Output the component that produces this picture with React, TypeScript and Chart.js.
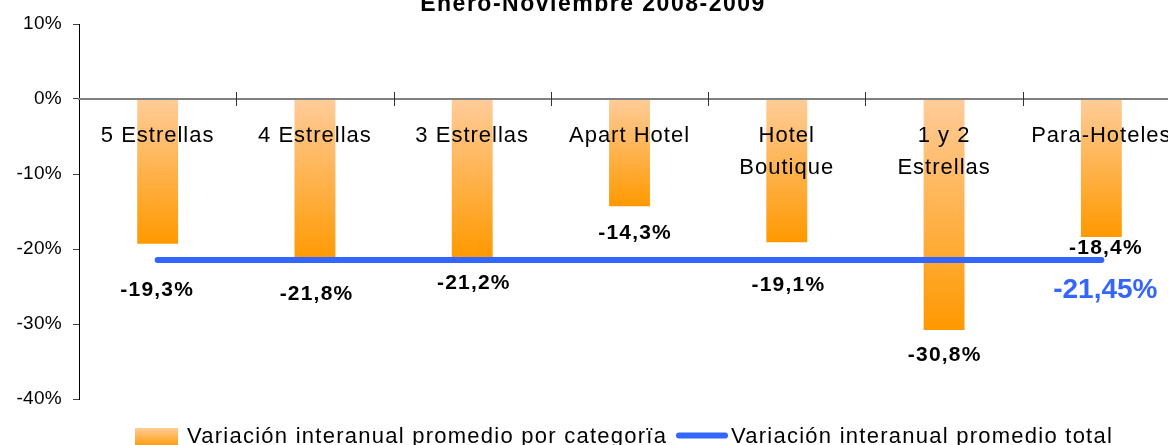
import React, { useEffect, useRef } from 'react';
import { Chart, registerables } from 'chart.js';

Chart.register(...registerables);

// ---- data ----
const categories: string[][] = [
  ['5 Estrellas'],
  ['4 Estrellas'],
  ['3 Estrellas'],
  ['Apart Hotel'],
  ['Hotel', 'Boutique'],
  ['1 y 2', 'Estrellas'],
  ['Para-Hoteles'],
];
const variacionCategoria = [-19.3, -21.8, -21.2, -14.3, -19.1, -30.8, -18.4];
const variacionTotal = [-21.45, -21.45, -21.45, -21.45, -21.45, -21.45, -21.45];
const yTicks = [10, 0, -10, -20, -30, -40];
const titleText = 'Enero-Noviembre 2008-2009';
const legendLabels = ['Variación interanual promedio por categorïa', 'Variación interanual promedio total'];

// ---- layout-only settings (label placement, px offsets from bar end) ----
const labelOffsets: number[][] = [[-1, 52], [1, 37], [1, 31], [5, 33], [1, 48.6], [0, 31.4], [4, 17]];
const totalLabelOffset = [4, 38];

const FONT = '"Liberation Sans", Arial, Helvetica, sans-serif';
const ORANGE_TOP = '#FFCC99';
const ORANGE_BOTTOM = '#FF9900';
const BLUE = '#3366FF';

const fmt = (v: number, d: number) => v.toFixed(d).replace('.', ',') + '%';

const decorPlugin = {
  id: 'decor',
  beforeDraw(chart: any) {
    chart.ctx.letterSpacing = '0.3px';
  },
  afterDatasetsDraw(chart: any) {
    // x-axis category labels (drawn after datasets) get a slight letter spacing
    chart.ctx.letterSpacing = '1px';
  },
  afterDraw(chart: any) {
    const ctx: CanvasRenderingContext2D = chart.ctx;
    const xs = chart.scales.x;
    const ys = chart.scales.y;
    ctx.save();
    const y0 = ys.getPixelForValue(0);

    // crossing tick marks between categories
    ctx.strokeStyle = '#333';
    ctx.lineWidth = 1;
    for (let i = 1; i <= categories.length; i++) {
      const x = i < categories.length
        ? (xs.getPixelForValue(i - 1) + xs.getPixelForValue(i)) / 2
        : xs.right;
      const px = Math.round(x) + 0.5;
      ctx.beginPath();
      ctx.moveTo(px, y0 - 7);
      ctx.lineTo(px, y0 + 7);
      ctx.stroke();
    }

    // value labels
    ctx.textAlign = 'center';
    ctx.textBaseline = 'alphabetic';
    ctx.fillStyle = '#000';
    ctx.font = `bold 21px ${FONT}`;
    (ctx as any).letterSpacing = '1.2px';
    variacionCategoria.forEach((v, i) => {
      const x = xs.getPixelForValue(i) + labelOffsets[i][0] + 0.6;
      const y = ys.getPixelForValue(v) + labelOffsets[i][1];
      ctx.fillText(fmt(v, 1), x, y);
    });

    // total label
    const last = variacionTotal.length - 1;
    ctx.fillStyle = BLUE;
    ctx.font = `bold 28px ${FONT}`;
    (ctx as any).letterSpacing = '0px';
    ctx.fillText(
      fmt(variacionTotal[last], 2),
      xs.getPixelForValue(last) + totalLabelOffset[0],
      ys.getPixelForValue(variacionTotal[last]) + totalLabelOffset[1]
    );

    // title (top part is cut off by the frame)
    ctx.fillStyle = '#000';
    ctx.font = `bold 23px ${FONT}`;
    (ctx as any).letterSpacing = '1.5px';
    ctx.fillText(titleText, 593, 11);

    // legend
    ctx.textAlign = 'left';
    ctx.font = `22px ${FONT}`;
    (ctx as any).letterSpacing = '1.25px';
    const g = ctx.createLinearGradient(0, 428, 0, 447);
    g.addColorStop(0, ORANGE_TOP);
    g.addColorStop(1, ORANGE_BOTTOM);
    ctx.fillStyle = g;
    ctx.fillRect(135, 428, 43, 19);
    ctx.fillStyle = '#000';
    ctx.fillText(legendLabels[0], 187, 443);

    ctx.strokeStyle = BLUE;
    ctx.lineWidth = 6;
    ctx.lineCap = 'round';
    ctx.beginPath();
    ctx.moveTo(679, 435.5);
    ctx.lineTo(725, 435.5);
    ctx.stroke();
    ctx.fillStyle = '#000';
    ctx.fillText(legendLabels[1], 731, 443);

    ctx.restore();
    ctx.letterSpacing = '0px';
  },
};

export default function App() {
  const ref = useRef<HTMLCanvasElement | null>(null);

  useEffect(() => {
    if (!ref.current) return;
    Chart.defaults.font.family = FONT;
    const chart = new Chart(ref.current, {
      type: 'bar',
      data: {
        labels: categories as any,
        datasets: [
          {
            type: 'line',
            label: legendLabels[1],
            data: variacionTotal,
            borderColor: BLUE,
            backgroundColor: BLUE,
            borderWidth: 6,
            borderCapStyle: 'round',
            pointRadius: 0,
            pointHoverRadius: 0,
            order: 0,
          } as any,
          {
            type: 'bar',
            label: legendLabels[0],
            data: variacionCategoria,
            barPercentage: 0.26,
            categoryPercentage: 1,
            borderWidth: 0,
            order: 1,
            backgroundColor: (c: any) => {
              const ch = c.chart;
              const ys = ch.scales && ch.scales.y;
              if (!ys || c.type !== 'data') return ORANGE_BOTTOM;
              const top = ys.getPixelForValue(0);
              const bot = ys.getPixelForValue(c.raw as number);
              if (!isFinite(top) || !isFinite(bot) || top === bot) return ORANGE_BOTTOM;
              const gr = ch.ctx.createLinearGradient(0, top, 0, bot);
              gr.addColorStop(0, ORANGE_TOP);
              gr.addColorStop(1, ORANGE_BOTTOM);
              return gr;
            },
          } as any,
        ],
      },
      options: {
        responsive: false,
        animation: false,
        devicePixelRatio: 1,
        layout: { padding: { top: 24, right: 20, bottom: 46, left: 0 } },
        plugins: {
          legend: { display: false },
          title: { display: false },
          tooltip: { enabled: false },
        },
        scales: {
          x: {
            position: { y: 0 } as any,
            grid: { display: false, drawTicks: false },
            border: { display: true, color: '#808080', width: 2, z: 1 } as any,
            ticks: {
              z: 1,
              padding: 21,
              color: '#000',
              autoSkip: false,
              maxRotation: 0,
              font: { size: 22, lineHeight: 32 / 22 },
            },
          },
          y: {
            min: -40,
            max: 10,
            afterBuildTicks: (s: any) => {
              s.ticks = yTicks.map((v) => ({ value: v }));
            },
            afterFit: (s: any) => {
              s.width = 79;
            },
            grid: { drawOnChartArea: false, drawTicks: true, tickLength: 6, color: '#404040', lineWidth: 1 },
            border: { display: true, color: '#000', width: 1 },
            ticks: {
              padding: 11,
              color: '#000',
              font: { size: 19 },
              callback: (v: any) => v + '%',
            },
          },
        },
      },
      plugins: [decorPlugin],
    });
    return () => chart.destroy();
  }, []);

  return (
    <div
      style={{
        position: 'fixed',
        left: 0,
        top: 0,
        width: 1168,
        height: 445,
        overflow: 'hidden',
        background: '#fff',
      }}
    >
      <canvas ref={ref} width={1200} height={445} style={{ display: 'block', width: 1200, height: 445 }} />
    </div>
  );
}
